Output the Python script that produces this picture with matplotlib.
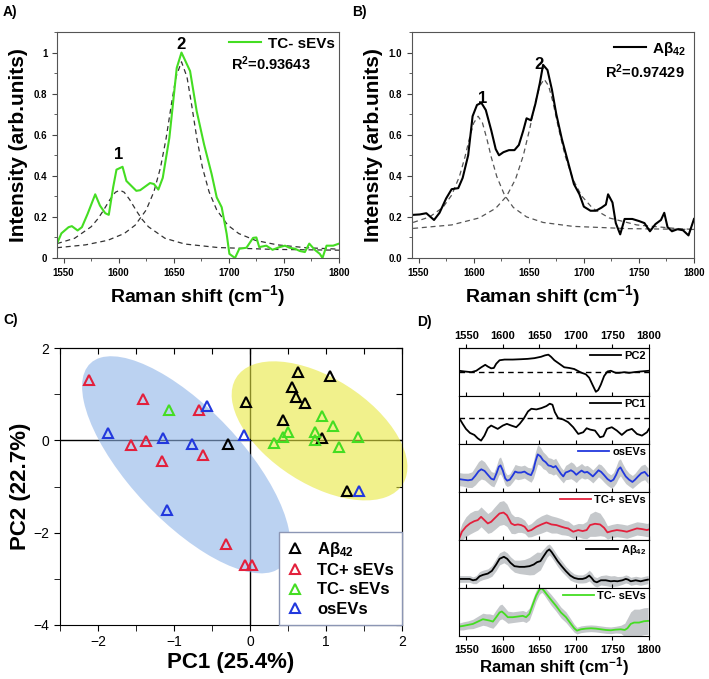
import numpy as np
import matplotlib
matplotlib.use('Agg')
import matplotlib.pyplot as plt
from matplotlib.patches import Ellipse
from matplotlib.ticker import MultipleLocator, FuncFormatter, NullFormatter
from matplotlib.lines import Line2D

plt.rcParams['font.family'] = ['Liberation Sans', 'DejaVu Sans']
plt.rcParams['font.weight'] = 'bold'
plt.rcParams['axes.labelweight'] = 'bold'
plt.rcParams['mathtext.fontset'] = 'custom'
plt.rcParams['mathtext.rm'] = 'Liberation Sans:bold'
plt.rcParams['mathtext.bf'] = 'Liberation Sans:bold'
plt.rcParams['mathtext.default'] = 'rm'

GREEN = '#44dd22'
RED = '#e3203c'
BLUE = '#2238dd'

# ---------------- panel A: TC- sEVs spectrum + Lorentzian fits
a_x = [1544, 1548, 1554.5, 1557.5, 1562.7, 1566.6, 1571.8, 1578.7, 1583, 1587.8, 1591, 1595, 1598,
       1603.5, 1607, 1616, 1619.5, 1628.5, 1632, 1636, 1640, 1646, 1652.7, 1657, 1664.8, 1670.8,
       1677.5, 1684.4, 1689, 1693.5, 1698, 1700.5, 1705.6, 1709.5, 1716, 1722, 1725, 1727.6, 1734,
       1739.7, 1746, 1751, 1755, 1760, 1764.5, 1769, 1773, 1778, 1782.6, 1785, 1788.7, 1794.7, 1800]
a_y = [0.07, 0.12, 0.15, 0.155, 0.134, 0.15, 0.215, 0.31, 0.255, 0.218, 0.21, 0.345, 0.43,
       0.444, 0.375, 0.327, 0.33, 0.365, 0.36, 0.333, 0.39, 0.585, 0.925, 1.0, 0.91, 0.715,
       0.553, 0.408, 0.295, 0.247, 0.118, 0.02, 0.0, 0.045, 0.05, 0.098, 0.1, 0.053, 0.06,
       0.04, 0.053, 0.06, 0.05, 0.045, 0.034, 0.029, 0.07, 0.04, 0.02, 0.0, 0.06, 0.06, 0.07]
a_fit1_x = [1544, 1560, 1575, 1581, 1585, 1589, 1592, 1597, 1601, 1605, 1610, 1613, 1617, 1621,
            1627, 1642, 1660, 1690, 1740, 1800]
a_fit1_y = [0.070, 0.096, 0.152, 0.190, 0.222, 0.257, 0.284, 0.320, 0.330, 0.320, 0.284, 0.257,
            0.222, 0.190, 0.152, 0.096, 0.068, 0.051, 0.042, 0.038]
a_fit2_x = [1544, 1570, 1590, 1605, 1615, 1625, 1632, 1638, 1643, 1648, 1652, 1657, 1662, 1666,
            1671, 1676, 1682, 1689, 1699, 1709, 1724, 1744, 1770, 1800]
a_fit2_y = [0.050, 0.064, 0.086, 0.119, 0.160, 0.234, 0.323, 0.441, 0.581, 0.753, 0.881, 0.955,
            0.881, 0.753, 0.581, 0.441, 0.323, 0.234, 0.160, 0.119, 0.086, 0.064, 0.050, 0.043]

# ---------------- panel B: Abeta42 spectrum + fits
b_x = [1545, 1551, 1557, 1564, 1569, 1575, 1580, 1586, 1590, 1595, 1599, 1603, 1607, 1611, 1616,
       1620, 1623, 1627, 1632, 1637, 1641, 1645, 1648, 1652, 1656, 1660, 1663, 1667, 1671, 1675,
       1680, 1686, 1691, 1696, 1700, 1706, 1711, 1716, 1720, 1722, 1726, 1729, 1733, 1737, 1744,
       1750, 1755, 1760, 1765, 1770, 1773, 1776, 1780, 1785, 1790, 1795, 1800]
b_y = [0.21, 0.212, 0.218, 0.185, 0.22, 0.29, 0.335, 0.34, 0.39, 0.5, 0.69, 0.745, 0.755, 0.72,
       0.62, 0.53, 0.5, 0.515, 0.525, 0.525, 0.55, 0.62, 0.68, 0.67, 0.75, 0.85, 0.94, 0.915,
       0.82, 0.70, 0.58, 0.46, 0.36, 0.31, 0.25, 0.23, 0.23, 0.245, 0.26, 0.31, 0.27, 0.17,
       0.115, 0.19, 0.19, 0.18, 0.17, 0.13, 0.165, 0.185, 0.22, 0.15, 0.13, 0.14, 0.135, 0.11, 0.19]
b_fit1_x = [1545, 1560, 1572, 1580, 1587, 1592, 1596, 1600, 1604, 1608, 1612, 1616, 1621, 1628,
            1636, 1648, 1663, 1690, 1740, 1800]
b_fit1_y = [0.173, 0.200, 0.246, 0.306, 0.396, 0.490, 0.579, 0.657, 0.690, 0.657, 0.579, 0.490,
            0.396, 0.306, 0.246, 0.200, 0.173, 0.154, 0.143, 0.139]
b_fit2_x = [1545, 1580, 1605, 1620, 1630, 1638, 1645, 1651, 1656, 1660, 1664, 1668, 1672, 1677,
            1683, 1690, 1698, 1708, 1723, 1748, 1783, 1800]
b_fit2_y = [0.144, 0.161, 0.195, 0.242, 0.302, 0.384, 0.498, 0.632, 0.758, 0.838, 0.870, 0.838,
            0.758, 0.632, 0.498, 0.384, 0.302, 0.242, 0.195, 0.161, 0.144, 0.139]

# ---------------- panel C: PCA scores
abeta_pc1 = [0.63, 1.05, 0.55, 0.60, 0.73, -0.05, 0.44, 0.945, -0.29, 1.27]
abeta_pc2 = [1.49, 1.39, 1.15, 0.94, 0.81, 0.84, 0.45, 0.05, -0.07, -1.09]
tcp_pc1 = [-2.12, -1.41, -0.67, -1.37, -1.57, -0.62, -1.16, -0.32, -0.06, 0.02]
tcp_pc2 = [1.31, 0.89, 0.66, -0.02, -0.11, -0.31, -0.45, -2.25, -2.69, -2.71]
tcm_pc1 = [-1.07, 0.95, 1.09, 0.50, 0.43, 0.31, 0.86, 0.85, 1.17, 1.42]
tcm_pc2 = [0.65, 0.52, 0.32, 0.17, 0.07, -0.05, 0.17, 0.0, -0.15, 0.07]
os_pc1 = [-1.87, -0.57, -1.15, -0.76, -0.08, -1.09, 1.43]
os_pc2 = [0.16, 0.75, 0.06, -0.09, 0.11, -1.51, -1.09]

# ---------------- panel D: loadings and mean spectra (x, y, sd half width)
pc2_x = [1540, 1547.7, 1556.8, 1563.6, 1570.5, 1575.9, 1579.5, 1584, 1587.7, 1590.9, 1595.5, 1602.3,
         1613.6, 1625, 1634, 1643.2, 1652.3, 1657.7, 1662.3, 1665.9, 1670.5, 1677.3, 1684, 1691,
         1697.7, 1702.3, 1706.8, 1713.6, 1718.2, 1722.7, 1727.3, 1730.5, 1734, 1738.6, 1743.2,
         1747.7, 1754.5, 1759, 1766, 1772.7, 1779.5, 1788.6, 1800]
pc2_y = [0.3, 0.1, -0.1, 0.3, 1.3, 2.0, 1.5, 1.0, 1.1, 2.3, 3.3, 3.5, 3.5, 3.6, 3.7, 3.9, 4.3, 4.7,
         4.9, 4.3, 3.3, 2.3, 1.3, 1.1, 0.8, 0.3, -0.2, -0.7, -1.7, -3.7, -5.7, -5.2, -3.7, -1.2,
         0.1, 0.3, -0.3, -0.3, -0.1, -0.3, -0.1, 0.1, 0.3]
pc1_x = [1540.4, 1545, 1549.5, 1555, 1561, 1565.6, 1570.2, 1574.8, 1579.4, 1584, 1588.5, 1593, 1600,
         1605.5, 1611.5, 1618.3, 1623, 1628.4, 1634.4, 1639, 1645.9, 1652.8, 1659.6, 1664.2, 1667.9,
         1671.1, 1675.7, 1682.6, 1689.4, 1696.3, 1703.2, 1710, 1714.7, 1719.3, 1726.1, 1733, 1737.6,
         1742.2, 1749.1, 1756, 1762.8, 1769.7, 1776.6, 1783.5, 1790.4, 1797.2, 1800]
pc1_y = [0, -1.7, -3.2, -4.4, -5.0, -6.0, -6.7, -5.2, -3.0, -2.2, -2.7, -3.2, -2.2, -1.7, -2.2, -2.7,
         -1.7, -0.2, 2.0, 2.8, 2.6, 3.0, 3.6, 4.3, 4.0, 1.8, 0, -0.4, -1.2, -2.7, -4.7, -4.2, -3.0,
         -3.4, -3.7, -5.7, -5.4, -3.2, -2.7, -3.7, -5.0, -3.7, -3.2, -4.7, -5.2, -4.2, -3.2]

osevs = np.array([
    (1539.5, 4.0, 2.0), (1545.5, 3.8, 2.0), (1552.3, 3.6, 2.2), (1557.7, 3.8, 2.4), (1562.3, 5.0, 2.8),
    (1566.8, 6.4, 3.0), (1570.5, 7.0, 3.0), (1575.0, 6.5, 2.8), (1579.5, 5.3, 2.5), (1584.1, 4.1, 2.2),
    (1587.7, 3.8, 2.2), (1591.4, 5.8, 2.4), (1594.5, 7.8, 2.6), (1596.8, 8.2, 2.6), (1600.0, 6.6, 2.4),
    (1603.2, 4.2, 2.0), (1605.9, 3.5, 1.8), (1609.5, 3.8, 1.8), (1613.2, 5.0, 2.0), (1616.8, 6.3, 2.2),
    (1620.5, 6.0, 2.2), (1625.0, 6.0, 2.0), (1629.5, 6.3, 2.0), (1634.1, 5.6, 2.0), (1638.6, 5.2, 2.2),
    (1641.8, 6.8, 2.6), (1644.5, 9.3, 3.0), (1647.7, 11.6, 3.0), (1651.4, 11.0, 2.8), (1655.0, 9.8, 2.6),
    (1658.6, 9.2, 2.4), (1662.3, 8.2, 2.4), (1665.9, 8.0, 2.4), (1669.1, 7.6, 2.4), (1672.3, 8.0, 2.4),
    (1675.9, 6.8, 2.2), (1679.5, 5.6, 2.0), (1682.7, 4.8, 2.0), (1685.9, 6.0, 2.2), (1689.5, 6.3, 2.4),
    (1693.2, 6.7, 2.6), (1696.8, 6.2, 2.6), (1700.5, 5.3, 2.4), (1704.1, 6.0, 2.2), (1707.7, 6.6, 2.2),
    (1711.8, 6.0, 2.0), (1715.5, 6.2, 2.0), (1719.1, 5.6, 2.0), (1723.2, 4.8, 2.0), (1727.3, 5.8, 2.0),
    (1730.9, 6.7, 2.0), (1734.5, 6.2, 2.2), (1738.6, 5.2, 2.2), (1743.2, 4.0, 2.0), (1747.7, 3.3, 2.0),
    (1751.4, 3.8, 2.2), (1755.0, 5.3, 2.6), (1758.2, 7.0, 2.8), (1760.9, 7.6, 2.6), (1764.1, 6.3, 2.4),
    (1768.2, 4.8, 2.2), (1772.7, 3.8, 2.0), (1777.3, 3.1, 2.0), (1780.9, 3.8, 2.0), (1785.0, 4.8, 2.2),
    (1789.5, 5.8, 2.4), (1794.1, 6.2, 2.4), (1798.6, 5.0, 2.4)])

tc_plus = np.array([
    (1540.4, 0.5, 2.0), (1544.0, 2.5, 2.5), (1549.5, 4.0, 3.0), (1555.0, 5.0, 3.2), (1561.0, 5.7, 3.2),
    (1565.6, 6.0, 3.0), (1570.2, 7.0, 3.0), (1574.8, 6.0, 3.0), (1579.4, 5.0, 3.0), (1584.0, 5.5, 3.2),
    (1588.5, 6.5, 3.4), (1595.4, 8.0, 3.6), (1600.9, 8.3, 3.6), (1605.5, 7.5, 3.4), (1611.5, 5.0, 3.0),
    (1616.1, 4.5, 2.6), (1620.6, 4.7, 2.4), (1625.2, 4.5, 2.2), (1629.8, 4.0, 2.0), (1634.4, 2.7, 1.8),
    (1639.0, 3.0, 2.0), (1645.9, 4.0, 2.4), (1652.8, 4.7, 2.6), (1659.6, 5.3, 2.6), (1666.5, 4.7, 2.6),
    (1673.4, 4.5, 2.4), (1680.3, 4.0, 2.4), (1684.9, 3.7, 2.2), (1689.4, 3.5, 2.2), (1696.3, 2.5, 2.0),
    (1703.2, 3.0, 2.0), (1709.2, 2.7, 2.2), (1714.7, 3.0, 2.6), (1719.3, 4.5, 3.4), (1726.1, 4.9, 3.8),
    (1733.0, 4.7, 3.4), (1738.5, 3.7, 2.6), (1743.1, 2.3, 2.0), (1749.1, 2.7, 2.0), (1756.0, 3.0, 2.0),
    (1762.8, 2.8, 2.0), (1769.7, 2.5, 2.0), (1776.6, 3.0, 2.0), (1783.5, 3.5, 2.0), (1790.4, 3.3, 2.0),
    (1797.2, 3.0, 2.0), (1800.0, 3.2, 2.0)])

abeta = np.array([
    (1539.5, 2.7, 1.0), (1547.7, 2.7, 1.0), (1554.5, 2.7, 1.0), (1559.1, 2.3, 1.0), (1563.6, 2.5, 1.2),
    (1568.2, 3.5, 1.4), (1572.7, 3.9, 1.4), (1579.5, 4.3, 1.4), (1585.0, 5.1, 1.6), (1590.9, 7.0, 1.8),
    (1595.5, 8.7, 1.8), (1601.4, 9.3, 1.8), (1605.9, 8.7, 1.8), (1610.5, 7.5, 1.8), (1615.9, 6.5, 1.8),
    (1622.7, 6.3, 2.0), (1629.5, 6.3, 2.2), (1636.4, 6.5, 2.6), (1642.3, 7.0, 3.0), (1646.8, 7.7, 3.0),
    (1651.4, 8.0, 2.6), (1655.9, 9.5, 2.2), (1660.5, 11.0, 1.8), (1663.6, 11.5, 1.6), (1666.8, 10.7, 1.6),
    (1670.5, 9.5, 1.6), (1675.0, 8.0, 1.6), (1680.5, 6.5, 1.6), (1686.4, 5.0, 1.4), (1692.3, 3.7, 1.4),
    (1697.7, 3.0, 1.2), (1703.2, 2.7, 1.2), (1709.1, 2.7, 1.2), (1713.6, 3.0, 1.4), (1718.2, 3.7, 1.6),
    (1721.4, 3.0, 1.6), (1725.0, 2.0, 1.4), (1728.6, 1.7, 1.4), (1734.1, 2.3, 1.4), (1740.9, 2.3, 1.6),
    (1747.7, 2.0, 1.6), (1752.3, 2.1, 1.6), (1756.8, 2.0, 1.4), (1763.6, 2.3, 1.2), (1768.2, 2.7, 1.2),
    (1771.4, 2.5, 1.2), (1775.0, 2.0, 1.2), (1781.8, 2.3, 1.2), (1788.6, 2.0, 1.2), (1794.1, 2.3, 1.2),
    (1798.6, 2.5, 1.2)])

tc_minus = np.array([
    (1539.5, 2.8, 1.0), (1545.5, 3.0, 1.2), (1552.3, 3.3, 1.2), (1559.1, 3.6, 1.4), (1565.9, 4.3, 1.6),
    (1572.7, 5.0, 1.8), (1577.3, 4.8, 1.8), (1581.8, 4.6, 2.0), (1586.4, 4.3, 2.0), (1590.9, 5.6, 2.2),
    (1595.5, 7.0, 2.2), (1598.6, 7.3, 2.2), (1602.3, 6.6, 2.0), (1606.8, 5.6, 1.8), (1613.6, 5.6, 1.6),
    (1620.5, 5.8, 1.6), (1627.3, 6.0, 1.6), (1631.8, 5.6, 1.6), (1636.4, 6.6, 1.8), (1640.9, 9.3, 1.8),
    (1645.5, 12.0, 1.6), (1650.0, 13.8, 1.4), (1653.2, 14.2, 1.2), (1655.9, 13.6, 1.2), (1660.5, 12.3, 1.4),
    (1665.9, 10.8, 1.6), (1672.7, 9.0, 1.6), (1679.5, 7.0, 1.6), (1686.4, 5.6, 1.6), (1693.2, 3.6, 1.4),
    (1697.7, 2.3, 1.2), (1701.4, 1.6, 1.0), (1706.8, 2.0, 1.0), (1713.6, 2.2, 1.0), (1720.5, 2.3, 1.0),
    (1727.3, 2.2, 1.0), (1734.1, 2.0, 1.0), (1740.9, 1.8, 1.0), (1747.7, 1.7, 1.0), (1754.5, 1.9, 1.0),
    (1761.4, 2.0, 1.2), (1766.8, 1.8, 2.0), (1770.5, 2.3, 3.0), (1775.0, 3.6, 3.6), (1779.5, 4.0, 4.0),
    (1786.4, 4.0, 4.0), (1793.2, 4.4, 4.0), (1798.6, 4.5, 4.0)])

W, H = 709, 679
fig = plt.figure(figsize=(W / 100, H / 100), dpi=100)


def box(left, top, right, bottom):
    return [left / W, 1 - bottom / H, (right - left) / W, (bottom - top) / H]


def spectrum_axes(ax, yfmt):
    ax.set_xlim(1544, 1800)
    ax.set_ylim(0, 1.1)
    ax.xaxis.set_major_locator(MultipleLocator(50))
    ax.xaxis.set_minor_locator(MultipleLocator(25))
    ax.yaxis.set_major_locator(MultipleLocator(0.2))
    ax.yaxis.set_minor_locator(MultipleLocator(0.1))
    ax.yaxis.set_major_formatter(FuncFormatter(yfmt))
    ax.tick_params(which='both', direction='out', labelsize=7, color='#444444')
    ax.tick_params(which='major', length=3.5)
    ax.tick_params(which='minor', length=2)
    for s in ax.spines.values():
        s.set_color('#555555')
    ax.set_xlabel('Raman shift (cm$^{-1}$)', fontsize=14, labelpad=4)
    ax.set_ylabel('Intensity (arb.units)', fontsize=15, labelpad=4)


# A
axA = fig.add_axes(box(57, 32, 339, 258))
axA.plot(a_fit1_x, a_fit1_y, ls=(0, (4, 3)), color='#333333', lw=0.9)
axA.plot(a_fit2_x, a_fit2_y, ls=(0, (4, 3)), color='#333333', lw=0.9)
axA.plot(a_x, a_y, color=GREEN, lw=1.5, label='TC- sEVs')
spectrum_axes(axA, lambda v, p: '%g' % round(v, 1))
axA.legend(loc='upper right', frameon=False, fontsize=11, handlelength=2.1, handletextpad=0.4,
           borderaxespad=0.1, borderpad=0.2)
axA.text(1702, 0.948, 'R$^2$=0.93643', fontsize=10.5, va='center', ha='left')
axA.text(1600, 0.505, '1', fontsize=12, ha='center', va='center')
axA.text(1657, 1.037, '2', fontsize=12, ha='center', va='center')

# B
axB = fig.add_axes(box(412, 32, 694, 258))
axB.plot(b_fit1_x, b_fit1_y, ls=(0, (4, 3)), color='#555555', lw=0.9)
axB.plot(b_fit2_x, b_fit2_y, ls=(0, (4, 3)), color='#555555', lw=0.9)
axB.plot(b_x, b_y, color='black', lw=1.5, label='A\u03b2$_{42}$')
spectrum_axes(axB, lambda v, p: '%.1f' % v)
axB.legend(loc='upper right', frameon=False, fontsize=11, handlelength=2.1, handletextpad=0.4,
           borderaxespad=0.3, borderpad=0.2)
axB.text(1755, 0.906, 'R$^2$=0.97429', fontsize=10.5, va='center', ha='center')
axB.text(1608, 0.777, '1', fontsize=12, ha='center', va='center')
axB.text(1659.7, 0.94, '2', fontsize=12, ha='center', va='center')

# C
axC = fig.add_axes(box(60, 348, 402, 625))
axC.set_xlim(-2.5, 2)
axC.set_ylim(-4, 2)
axC.axhline(0, color='black', lw=1, zorder=1)
axC.axvline(0, color='black', lw=1, zorder=1)
axC.add_patch(Ellipse((-0.84, -0.53), 5.16, 1.73, angle=-64.1, facecolor='#8fb4e8',
                      edgecolor='none', alpha=0.6, zorder=2))
axC.add_patch(Ellipse((0.915, 0.205), 3.36, 1.77, angle=-58.6, facecolor='#e8e840',
                      edgecolor='none', alpha=0.6, zorder=2, clip_on=False))
mk = dict(ls='none', marker='^', mfc='none', ms=7, mew=1.5, zorder=4)
axC.plot(abeta_pc1, abeta_pc2, mec='black', **mk)
axC.plot(tcp_pc1, tcp_pc2, mec=RED, **mk)
axC.plot(tcm_pc1, tcm_pc2, mec=GREEN, **mk)
axC.plot(os_pc1, os_pc2, mec=BLUE, **mk)
handles = [Line2D([], [], mec=c, **mk) for c in ['black', RED, GREEN, BLUE]]
leg = axC.legend(handles, ['A\u03b2$_{42}$', 'TC+ sEVs', 'TC- sEVs', 'osEVs'], loc='lower right',
                 fontsize=12, borderaxespad=0, handlelength=1.0, handletextpad=0.8,
                 labelspacing=0.25, borderpad=0.5, fancybox=False, framealpha=1)
leg.get_frame().set_edgecolor('#8c96b4')
leg.get_frame().set_linewidth(1)
leg.set_zorder(5)
axC.xaxis.set_major_locator(MultipleLocator(1))
axC.xaxis.set_minor_locator(MultipleLocator(0.5))
axC.yaxis.set_major_locator(MultipleLocator(2))
axC.yaxis.set_minor_locator(MultipleLocator(1))
axC.tick_params(which='both', direction='out', labelsize=10, length=4)
for lab in axC.get_xticklabels() + axC.get_yticklabels():
    lab.set_fontweight('normal')
topC = axC.secondary_xaxis('top')
topC.xaxis.set_major_locator(MultipleLocator(0.5))
topC.xaxis.set_major_formatter(NullFormatter())
topC.tick_params(direction='in', length=4)
rightC = axC.secondary_yaxis('right')
rightC.yaxis.set_major_locator(MultipleLocator(1))
rightC.yaxis.set_major_formatter(NullFormatter())
rightC.tick_params(direction='in', length=4)
axC.set_xlabel('PC1 (25.4%)', fontsize=16, labelpad=2)
axC.set_ylabel('PC2 (22.7%)', fontsize=16, labelpad=2)

# D
d_top, d_bottom = 348, 636
ph = (d_bottom - d_top) / 6
panels = [
    ('PC2', pc2_x, pc2_y, None, 'black', (-6.9, 6.8)),
    ('PC1', pc1_x, pc1_y, None, 'black', (-7.7, 6.6)),
    ('osEVs', osevs[:, 0], osevs[:, 1], osevs[:, 2], BLUE, (0, 14.8)),
    ('TC+ sEVs', tc_plus[:, 0], tc_plus[:, 1], tc_plus[:, 2], RED, (0, 14.5)),
    ('A\u03b2$_{42}$', abeta[:, 0], abeta[:, 1], abeta[:, 2], 'black', (0, 14.3)),
    ('TC- sEVs', tc_minus[:, 0], tc_minus[:, 1], tc_minus[:, 2], GREEN, (0, 14.3)),
]
ticks = [1550, 1600, 1650, 1700, 1750, 1800]
for i, (name, x, y, sd, col, yl) in enumerate(panels):
    ax = fig.add_axes(box(459, d_top + i * ph, 649, d_top + (i + 1) * ph))
    if sd is not None:
        ax.fill_between(x, y - sd, y + sd, color='#c5c8cb', lw=0)
    else:
        ax.axhline(0, color='black', ls=(0, (4, 3)), lw=1)
    ax.plot(x, y, color=col, lw=1.3, label=name)
    ax.set_xlim(1540, 1800)
    ax.set_ylim(*yl)
    ax.set_yticks([])
    ax.set_xticks(ticks)
    ax.legend(loc='upper right', frameon=False, fontsize=8, handlelength=2.8, handletextpad=0.3,
              borderaxespad=0.1, borderpad=0.15)
    if i == 5:
        ax.tick_params(axis='x', direction='out', labelsize=8, length=3)
        ax.set_xlabel('Raman shift (cm$^{-1}$)', fontsize=12, labelpad=0)
    else:
        ax.tick_params(axis='x', direction='in', labelbottom=False, length=3)
    if i == 0:
        top = ax.secondary_xaxis('top')
        top.set_xticks(ticks)
        top.tick_params(direction='out', labelsize=8, length=3, pad=2)

# panel letters
for lab, px, py in [('A)', 3, 12), ('B)', 352, 12), ('C)', 3, 320), ('D)', 417, 322)]:
    fig.text(px / W, 1 - py / H, lab, fontsize=10, ha='left', va='center')

fig.savefig('out.png', dpi=100)
